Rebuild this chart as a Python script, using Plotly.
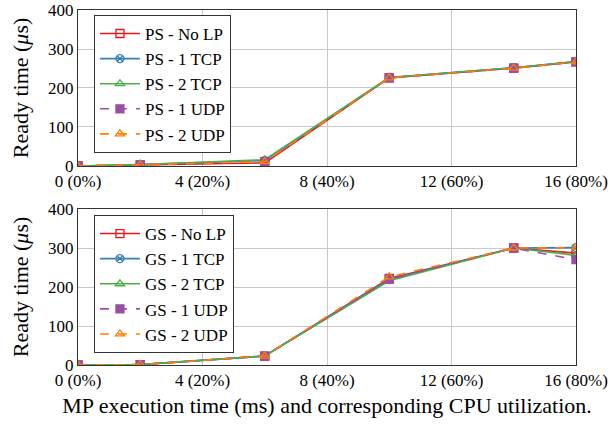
import plotly.graph_objects as go
from plotly.subplots import make_subplots

x_vals = [0, 2, 6, 10, 14, 16]
x_ticks = [0, 4, 8, 12, 16]
x_tick_labels = ["0 (0%)", "4 (20%)", "8 (40%)", "12 (60%)", "16 (80%)"]
y_ticks = [0, 100, 200, 300, 400]

series_names = ["No LP", "1 TCP", "2 TCP", "1 UDP", "2 UDP"]

ps_no_lp = [0, 3, 8, 226, 251, 267]
ps_1tcp = [0, 4, 14, 227, 252, 268]
ps_2tcp = [0, 4, 16, 227, 252, 268]
ps_1udp = [0, 3, 11, 226, 251, 267]
ps_2udp = [0, 3, 11, 226, 251, 267]

gs_no_lp = [0, 1, 23, 222, 300, 287]
gs_1tcp = [0, 1, 23, 219, 300, 301]
gs_2tcp = [0, 1, 23, 216, 300, 281]
gs_1udp = [0, 1, 23, 220, 300, 270]
gs_2udp = [0, 1, 23, 226, 300, 301]

colors = ["#e41a1c", "#377eb8", "#4daf4a", "#984ea3", "#ff7f00"]
symbols = ["square-open", "circle-x-open", "triangle-up-open", "square", "triangle-up-open"]
dashes = ["solid", "solid", "solid", "dash", "dash"]

FONT = "Liberation Serif"

fig = make_subplots(rows=2, cols=1, shared_xaxes=False, vertical_spacing=0.1212)

ps = [ps_no_lp, ps_1tcp, ps_2tcp, ps_1udp, ps_2udp]
gs = [gs_no_lp, gs_1tcp, gs_2tcp, gs_1udp, gs_2udp]

for row, prefix, data, leg in [(1, "PS", ps, "legend"), (2, "GS", gs, "legend2")]:
    for i in range(5):
        fig.add_trace(go.Scatter(
            x=x_vals, y=data[i], mode="lines+markers",
            name=f"{prefix} - {series_names[i]}",
            line=dict(color=colors[i], width=1.6, dash=dashes[i]),
            marker=dict(symbol=symbols[i], size=8, color=colors[i],
                        line=dict(color=colors[i], width=1.3)),
            legend=leg,
        ), row=row, col=1)

axis_common = dict(
    showgrid=True, gridcolor="#c8c8c8", gridwidth=1,
    showline=True, linecolor="#333333", linewidth=1, mirror=True,
    ticks="", zeroline=False, automargin=False,
    ticklabeloverflow="allow",
    tickfont=dict(family=FONT, size=17, color="black"),
)

for r in (1, 2):
    fig.update_xaxes(range=[0, 16], tickvals=x_ticks, ticktext=x_tick_labels,
                     **axis_common, row=r, col=1)
    fig.update_yaxes(range=[0, 400], tickvals=y_ticks,
                     title=dict(text="Ready time (<i>μ</i>s)",
                                font=dict(family=FONT, size=22, color="black"),
                                standoff=13),
                     **axis_common, row=r, col=1)

fig.update_xaxes(title=dict(text="MP execution time (ms) and corresponding CPU utilization.",
                            font=dict(family=FONT, size=22, color="black"), standoff=8),
                 row=2, col=1)

legend_common = dict(
    font=dict(family=FONT, size=17, color="black"),
    bgcolor="white", bordercolor="#333333", borderwidth=1,
    xanchor="left", yanchor="top", tracegroupgap=0, itemwidth=40,
)

fig.update_layout(
    width=608, height=425,
    margin=dict(l=78, r=32, t=10, b=60),
    plot_bgcolor="white", paper_bgcolor="white",
    font=dict(family=FONT, color="black"),
    legend=dict(x=0.032, y=0.986, **legend_common),
    legend2=dict(x=0.032, y=0.4225, **legend_common),
    showlegend=True,
)

fig.write_html("out.html")
